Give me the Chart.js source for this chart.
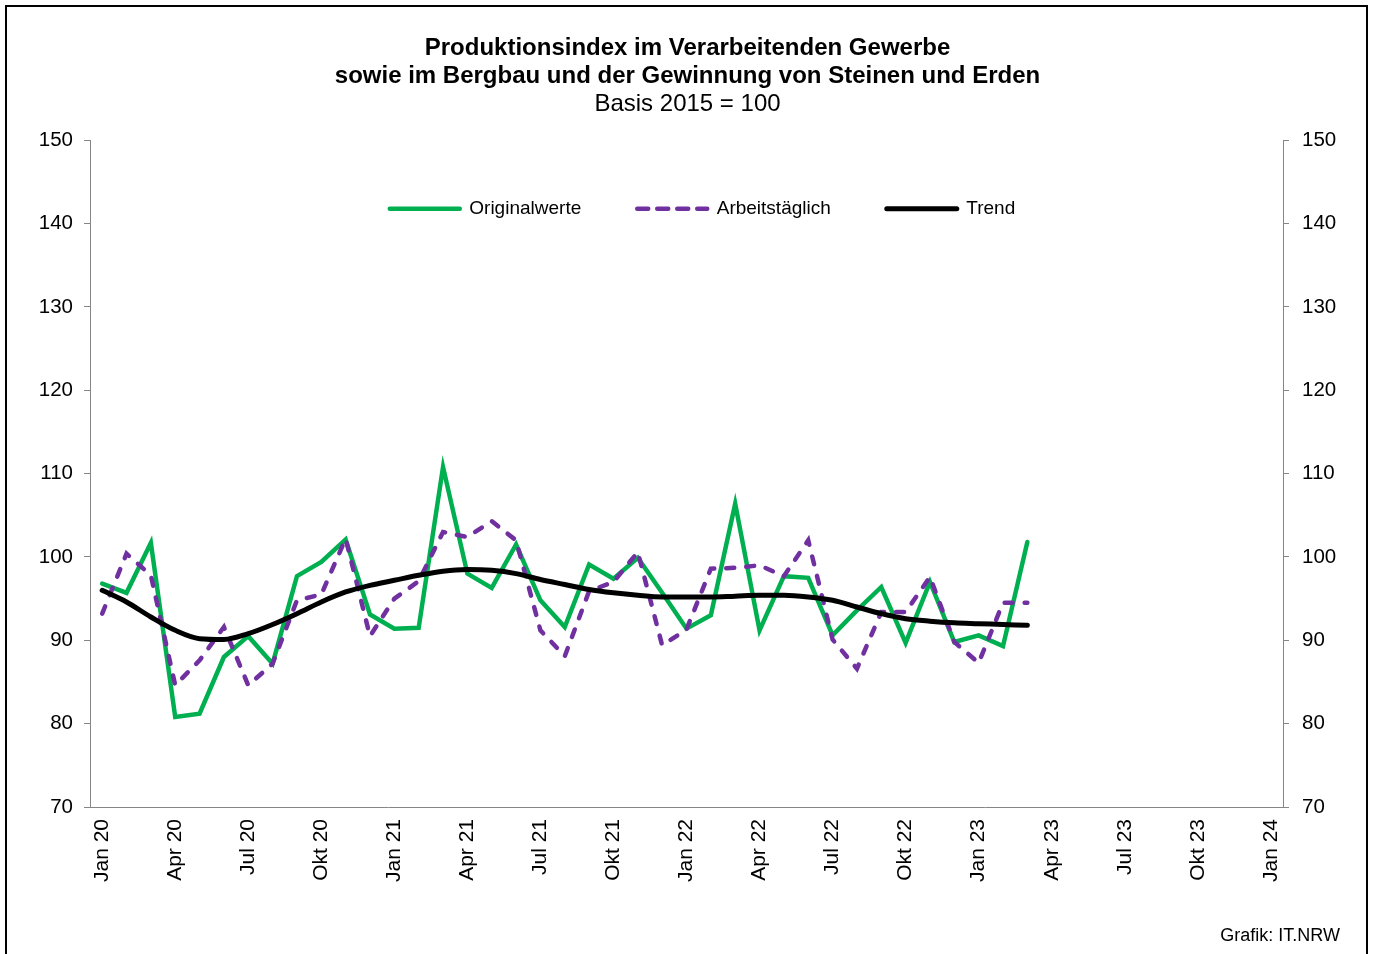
<!DOCTYPE html>
<html lang="de">
<head>
<meta charset="utf-8">
<title>Produktionsindex NRW</title>
<script src="https://cdn.jsdelivr.net/npm/chart.js@4/dist/chart.umd.min.js"></script>
<style>
  html, body { margin: 0; padding: 0; background: #fff; overflow: hidden; }
  #wrap { position: relative; width: 1375px; height: 954px; }
  #frame {
    position: absolute; left: 5px; top: 5px; width: 1363px; height: 990px;
    border: 2px solid #000; box-sizing: border-box; pointer-events: none;
  }
  #quelle {
    position: absolute; right: 35px; top: 924px;
    font: 18px "Liberation Sans", Arial, sans-serif; color: #000; line-height: 22px;
  }
</style>
</head>
<body>
<div id="wrap">
  <canvas id="grafik" width="1375" height="954"></canvas>
  <div id="frame"></div>
  <div id="quelle">Grafik: IT.NRW</div>
</div>
<script>
// Monate Jan 20 bis Jan 24
const monate = ["Jan", "Feb", "Mär", "Apr", "Mai", "Jun", "Jul", "Aug", "Sep", "Okt", "Nov", "Dez"];
const jahre = ["20", "21", "22", "23"];
let labels = [];
for (const j of jahre) {
    for (const m of monate) labels.push(m + " " + j);
}
labels.push("Jan 24");

// Werte (Jan 20 bis Mär 23), Basis 2015 = 100
const originalwerte = [
    96.8, 95.7, 101.7, 80.8, 81.2, 88.0, 90.5, 87.2, 97.7, 99.4, 102.1, 93.1,
    91.4, 91.5, 110.8, 98.0, 96.3, 101.5, 94.8, 91.6, 99.1, 97.4, 99.9, 95.7,
    91.4, 93.0, 106.4, 91.2, 97.7, 97.5, 90.6, 93.6, 96.4, 89.7, 97.0, 89.8,
    90.6, 89.3, 101.8
];
const arbeitstaeglich = [
    93.2, 100.4, 97.8, 84.6, 87.6, 91.6, 84.6, 87.2, 94.8, 95.5, 102.2, 90.5,
    95.0, 97.1, 103.0, 102.4, 104.3, 102.0, 91.2, 88.1, 95.9, 97.0, 100.6, 89.4,
    91.3, 98.6, 98.7, 99.0, 97.7, 102.0, 90.1, 86.6, 93.4, 93.4, 97.6, 89.8,
    87.3, 94.5, 94.5
];
const trend = [
    96.0, 94.6, 92.8, 91.2, 90.2, 90.1, 90.8, 91.9, 93.2, 94.6, 95.8, 96.6,
    97.2, 97.8, 98.3, 98.5, 98.4, 98.0, 97.3, 96.7, 96.1, 95.7, 95.4, 95.2,
    95.2, 95.2, 95.3, 95.4, 95.4, 95.2, 94.8, 94.0, 93.2, 92.6, 92.3, 92.1,
    92.0, 91.9, 91.8
];

const yMin = 70;
const yMax = 150;
const yStep = 10;

const schrift = '"Liberation Sans", Arial, sans-serif';
Chart.defaults.font.family = schrift;
Chart.defaults.color = "#000";

// Legende waagerecht im Diagramm, leicht rechts der Mitte
const legendeImDiagramm = {
    id: "legendeImDiagramm",
    beforeLayout(chart) {
        if (chart.legend) chart.legend.isHorizontal = () => true;
    },
    afterLayout(chart) {
        const lg = chart.legend, ca = chart.chartArea;
        lg.left = ca.left + 16;
        lg.right = ca.right + 16;
        lg.top = ca.top + 3;
        lg.bottom = lg.top + lg.height;
    }
};

// Legendenlinien mit Strichelung der Datenreihe
function legendenEintraege(chart) {
    const items = Chart.defaults.plugins.legend.labels.generateLabels(chart);
    items.forEach((it) => {
        const ds = chart.data.datasets[it.datasetIndex];
        it.lineDash = ds.borderDash ? [11, 9] : [];
        it.lineWidth = ds.borderWidth;
        it.lineCap = "round";
        it.strokeStyle = ds.borderColor;
    });
    return items;
}

function yAchse(pos, abstand, breite) {
    return {
        position: pos,
        min: yMin,
        max: yMax,
        ticks: { stepSize: yStep, color: "#000", font: { size: 20.5 }, padding: abstand },
        grid: { drawOnChartArea: false, drawTicks: true, tickLength: 6, color: "#868686" },
        border: { display: true, color: "#868686", width: 1 },
        afterFit(scale) { scale.width = breite; }
    };
}

new Chart(document.getElementById("grafik").getContext("2d"), {
    type: "line",
    data: {
        labels: labels,
        datasets: [
            {
                label: "Originalwerte",
                data: originalwerte,
                borderColor: "#00B050",
                borderWidth: 4.5,
                borderCapStyle: "round",
                pointRadius: 0,
                tension: 0,
                order: 2
            },
            {
                label: "Arbeitstäglich",
                data: arbeitstaeglich,
                borderColor: "#7030A0",
                borderWidth: 4.5,
                borderDash: [8, 12],
                borderCapStyle: "round",
                pointRadius: 0,
                tension: 0,
                order: 1
            },
            {
                label: "Trend",
                data: trend,
                borderColor: "#000000",
                borderWidth: 5,
                borderCapStyle: "round",
                pointRadius: 0,
                cubicInterpolationMode: "monotone",
                order: 0
            }
        ]
    },
    options: {
        responsive: false,
        animation: false,
        devicePixelRatio: 1,
        layout: { padding: 0 },
        plugins: {
            title: {
                display: true,
                text: ["Produktionsindex im Verarbeitenden Gewerbe",
                       "sowie im Bergbau und der Gewinnung von Steinen und Erden"],
                color: "#000",
                font: { size: 24, weight: "bold", lineHeight: 1.15 },
                padding: { top: 35, bottom: 0 }
            },
            subtitle: {
                display: true,
                text: "Basis 2015 = 100",
                color: "#000",
                font: { size: 24, weight: "normal", lineHeight: 1.15 },
                padding: { top: 0, bottom: 22.5 }
            },
            legend: {
                position: "chartArea",
                align: "center",
                labels: {
                    usePointStyle: true,
                    pointStyle: "line",
                    pointStyleWidth: 70,
                    boxWidth: 70,
                    padding: 56,
                    color: "#000",
                    font: { size: 19 },
                    generateLabels: legendenEintraege,
                    sort: (a, b) => a.datasetIndex - b.datasetIndex
                }
            },
            tooltip: { enabled: false }
        },
        scales: {
            x: {
                type: "category",
                offset: true,
                grid: { display: false, drawTicks: false },
                border: { display: true, color: "#868686", width: 1 },
                ticks: {
                    autoSkip: false,
                    minRotation: 90,
                    maxRotation: 90,
                    padding: 12,
                    color: "#000",
                    font: { size: 21 },
                    callback: function (v, i) {
                        return i % 3 === 0 ? this.getLabelForValue(v) : null;
                    }
                },
                afterFit(scale) { scale.height = 147; }
            },
            y: yAchse("left", 11, 90),
            y2: yAchse("right", 13, 92)
        }
    },
    plugins: [legendeImDiagramm]
});
</script>
</body>
</html>
